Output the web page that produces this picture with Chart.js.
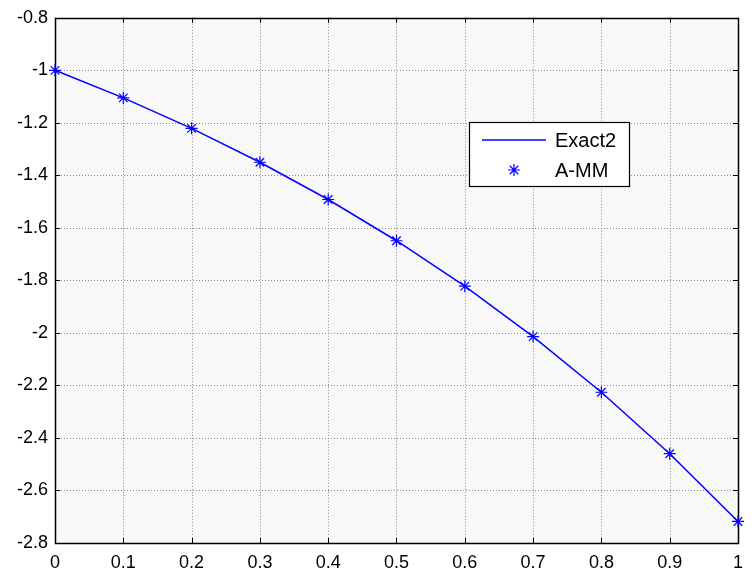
<!DOCTYPE html>
<html>
<head>
<meta charset="utf-8">
<script src="https://cdn.jsdelivr.net/npm/chart.js@4/dist/chart.umd.min.js"></script>
<style>
  body { margin: 0; background: #fff; }
  canvas { display: block; }
</style>
</head>
<body>
<canvas id="chart" width="752" height="572"></canvas>
<script>
// nilai x dan y untuk kurva eksak dan hasil A-MM
const xVals = [0, 0.1, 0.2, 0.3, 0.4, 0.5, 0.6, 0.7, 0.8, 0.9, 1];
const exact2 = [-1, -1.105, -1.221, -1.350, -1.492, -1.649, -1.822, -2.014, -2.226, -2.460, -2.718];
const amm = [-1, -1.105, -1.221, -1.350, -1.492, -1.649, -1.822, -2.014, -2.226, -2.460, -2.718];
const xTicks = [0, 0.1, 0.2, 0.3, 0.4, 0.5, 0.6, 0.7, 0.8, 0.9, 1];
const yTicks = [-2.8, -2.6, -2.4, -2.2, -2, -1.8, -1.6, -1.4, -1.2, -1, -0.8];
const legendLabels = ["Exact2", "A-MM"];

const BLUE = "#0000ff";
const FONT = "'Liberation Sans', Arial, sans-serif";

const toPoints = ys => xVals.map((x, i) => ({ x: x, y: ys[i] }));

// latar, grid titik-titik, kotak dan tick ke dalam
const framePlugin = {
  id: "frame",
  beforeDatasetsDraw(chart) {
    const { ctx, chartArea: a, scales } = chart;
    ctx.save();
    ctx.fillStyle = "#f8f8f8";
    ctx.fillRect(a.left, a.top, a.right - a.left, a.bottom - a.top);

    ctx.strokeStyle = "#8c8c8c";
    ctx.lineWidth = 1;
    ctx.setLineDash([1, 2]);
    ctx.beginPath();
    xTicks.forEach(v => {
      const px = Math.round(scales.x.getPixelForValue(v)) + 0.5;
      ctx.moveTo(px, a.top); ctx.lineTo(px, a.bottom);
    });
    yTicks.forEach(v => {
      const py = Math.round(scales.y.getPixelForValue(v)) + 0.5;
      ctx.moveTo(a.left, py); ctx.lineTo(a.right, py);
    });
    ctx.stroke();
    ctx.setLineDash([]);

    ctx.strokeStyle = "#000";
    ctx.beginPath();
    xTicks.forEach(v => {
      const px = Math.round(scales.x.getPixelForValue(v)) + 0.5;
      ctx.moveTo(px, a.bottom); ctx.lineTo(px, a.bottom - 5);
      ctx.moveTo(px, a.top); ctx.lineTo(px, a.top + 5);
    });
    yTicks.forEach(v => {
      const py = Math.round(scales.y.getPixelForValue(v)) + 0.5;
      ctx.moveTo(a.left, py); ctx.lineTo(a.left + 5, py);
      ctx.moveTo(a.right, py); ctx.lineTo(a.right - 5, py);
    });
    ctx.stroke();

    ctx.lineWidth = 1.5;
    ctx.strokeRect(Math.round(a.left) + 0.5, Math.round(a.top) + 0.5,
      Math.round(a.right - a.left), Math.round(a.bottom - a.top));
    ctx.restore();
  },
  afterDatasetsDraw(chart) {
    // legenda di dalam area plot
    const ctx = chart.ctx;
    const bx = 469, by = 122, bw = 160, bh = 64;
    ctx.save();
    ctx.fillStyle = "#fff";
    ctx.fillRect(bx, by, bw, bh);
    ctx.strokeStyle = "#000";
    ctx.lineWidth = 1.2;
    ctx.strokeRect(bx + 0.5, by + 0.5, bw, bh);

    ctx.strokeStyle = BLUE;
    ctx.lineWidth = 1.5;
    ctx.beginPath();
    ctx.moveTo(482, 140); ctx.lineTo(546, 140);
    ctx.stroke();
    ctx.lineWidth = 1.2;
    Chart.helpers.drawPoint(ctx, { pointStyle: "star", radius: 6, borderWidth: 1.2 }, 514, 170);
    ctx.fillStyle = "#000";
    ctx.font = "20px " + FONT;
    ctx.textBaseline = "middle";
    ctx.textAlign = "left";
    ctx.fillText(legendLabels[0], 555, 141);
    ctx.fillText(legendLabels[1], 555, 171);
    ctx.restore();
  }
};

const ctx = document.getElementById("chart").getContext("2d");
new Chart(ctx, {
  type: "scatter",
  data: {
    datasets: [
      {
        label: legendLabels[0],
        data: toPoints(exact2),
        showLine: true,
        borderColor: BLUE,
        borderWidth: 1.5,
        pointRadius: 0,
        clip: false
      },
      {
        label: legendLabels[1],
        data: toPoints(amm),
        showLine: false,
        pointStyle: "star",
        pointRadius: 6,
        borderColor: BLUE,
        backgroundColor: BLUE,
        pointBorderWidth: 1.2,
        clip: false
      }
    ]
  },
  options: {
    responsive: false,
    animation: false,
    layout: { padding: { top: 16, right: 4, left: 0, bottom: 0 } },
    plugins: { legend: { display: false }, tooltip: { enabled: false } },
    scales: {
      x: {
        type: "linear",
        min: 0,
        max: 1,
        afterFit: s => { s.height = 29; },
        afterBuildTicks: s => { s.ticks = xTicks.map(v => ({ value: v })); },
        grid: { display: false, drawTicks: false },
        border: { display: false },
        ticks: {
          color: "#000",
          padding: 9,
          font: { family: FONT, size: 18 },
          callback: v => String(parseFloat(v.toFixed(1)))
        }
      },
      y: {
        min: -2.8,
        max: -0.8,
        afterFit: s => { s.width = 55; },
        afterBuildTicks: s => { s.ticks = yTicks.map(v => ({ value: v })); },
        grid: { display: false, drawTicks: false },
        border: { display: false },
        ticks: {
          color: "#000",
          padding: 7,
          font: { family: FONT, size: 18 },
          callback: v => String(parseFloat(v.toFixed(1)))
        }
      }
    }
  },
  plugins: [framePlugin]
});
</script>
</body>
</html>
